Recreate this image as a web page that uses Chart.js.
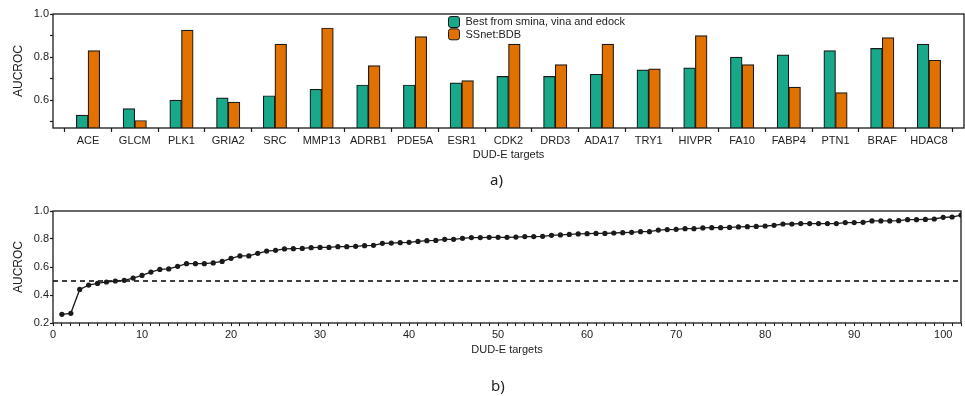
<!DOCTYPE html>
<html>
<head>
<meta charset="utf-8">
<script src="https://cdn.jsdelivr.net/npm/chart.js@4"></script>
<style>
  body { margin: 0; background: #fff; width: 965px; height: 396px; position: relative; overflow: hidden; }
  #topChart { position: absolute; left: 0; top: 0; }
  #bottomChart { position: absolute; left: 0; top: 200px; }
  .cap { position: absolute; font-family: "Noto Sans", sans-serif; font-size: 15px; color: #222; }
</style>
</head>
<body>
<canvas id="topChart" width="965" height="170"></canvas>
<canvas id="bottomChart" width="965" height="160"></canvas>
<div class="cap" style="left:490px; top:169px;">a)</div>
<div class="cap" style="left:491px; top:375px;">b)</div>
<script>
// Panel a): AUCROC per target
const targets = ['ACE', 'GLCM', 'PLK1', 'GRIA2', 'SRC', 'MMP13', 'ADRB1', 'PDE5A', 'ESR1', 'CDK2',
  'DRD3', 'ADA17', 'TRY1', 'HIVPR', 'FA10', 'FABP4', 'PTN1', 'BRAF', 'HDAC8'];
const bestDocking = [0.53, 0.56, 0.60, 0.61, 0.62, 0.65, 0.67, 0.67, 0.68, 0.71,
  0.71, 0.72, 0.74, 0.75, 0.80, 0.81, 0.83, 0.84, 0.86];
const ssnetBDB = [0.83, 0.505, 0.925, 0.59, 0.86, 0.935, 0.76, 0.895, 0.69, 0.86,
  0.765, 0.86, 0.745, 0.90, 0.765, 0.66, 0.635, 0.89, 0.785];

// Panel b): AUCROC over all DUD-E targets, sorted
const sortedAUC = [
  0.262, 0.269, 0.44, 0.471, 0.483, 0.493, 0.50, 0.505, 0.521, 0.54,
  0.564, 0.583, 0.586, 0.605, 0.624, 0.624, 0.624, 0.629, 0.64, 0.662,
  0.679, 0.679, 0.698, 0.714, 0.719, 0.729, 0.731, 0.733, 0.738, 0.74,
  0.74, 0.745, 0.745, 0.748, 0.752, 0.755, 0.769, 0.771, 0.774, 0.776,
  0.783, 0.788, 0.79, 0.798, 0.798, 0.805, 0.81, 0.81, 0.812, 0.812,
  0.812, 0.814, 0.817, 0.817, 0.819, 0.826, 0.829, 0.833, 0.836, 0.838,
  0.84, 0.84, 0.843, 0.845, 0.848, 0.852, 0.852, 0.864, 0.867, 0.869,
  0.874, 0.874, 0.879, 0.881, 0.881, 0.883, 0.886, 0.888, 0.89, 0.893,
  0.898, 0.907, 0.907, 0.91, 0.91, 0.91, 0.91, 0.91, 0.917, 0.917,
  0.919, 0.929, 0.929, 0.929, 0.931, 0.938, 0.938, 0.94, 0.943, 0.955,
  0.957, 0.971
];
const chanceLevel = 0.5;

const ink = '#1a1a1a';
Chart.defaults.font.family = '"Liberation Sans", Arial, sans-serif';
Chart.defaults.font.size = 11;
Chart.defaults.color = '#222';

// box around the plot area
const frame = {
  id: 'frame',
  afterDraw(chart) {
    const { ctx, chartArea: a } = chart;
    ctx.save();
    ctx.strokeStyle = ink;
    ctx.lineWidth = 1.3;
    ctx.strokeRect(a.left, a.top, a.right - a.left, a.bottom - a.top);
    ctx.restore();
  }
};

// legend drawn inside the plot, top centre
const innerLegend = {
  id: 'innerLegend',
  afterDraw(chart) {
    const ctx = chart.ctx;
    ctx.save();
    chart.data.datasets.forEach((ds, i) => {
      const y = 16.5 + i * 12.3;
      ctx.beginPath();
      ctx.roundRect(448.5, y, 11, 11, 2.5);
      ctx.fillStyle = ds.backgroundColor;
      ctx.fill();
      ctx.strokeStyle = ink;
      ctx.lineWidth = 1;
      ctx.stroke();
      ctx.fillStyle = '#222';
      ctx.font = '11px "Liberation Sans", Arial, sans-serif';
      ctx.textBaseline = 'middle';
      ctx.fillText(ds.label, 465.5, y + 5.8);
    });
    ctx.restore();
  }
};

const tenthsLabel = v => (Math.round(v * 10) % 2 === 0 ? v.toFixed(1) : '');

new Chart(document.getElementById('topChart'), {
  type: 'bar',
  data: {
    datasets: [
      {
        label: 'Best from smina, vina and edock',
        data: bestDocking.map((v, i) => ({ x: i, y: v })),
        backgroundColor: '#17a98a',
        borderColor: ink,
        borderWidth: 1.2
      },
      {
        label: 'SSnet:BDB',
        data: ssnetBDB.map((v, i) => ({ x: i, y: v })),
        backgroundColor: '#e27200',
        borderColor: ink,
        borderWidth: 1.2
      }
    ]
  },
  options: {
    responsive: false,
    animation: false,
    categoryPercentage: 1.0,
    barPercentage: 1.0,
    layout: { padding: { top: 14, right: 1, left: 0, bottom: 0 } },
    plugins: { legend: { display: false }, tooltip: { enabled: false } },
    scales: {
      x: {
        type: 'linear',
        offset: false,
        min: -0.75,
        max: targets.length - 0.25,
        afterBuildTicks: s => {
          s.ticks = [];
          for (let v = -0.5; v <= targets.length - 0.5; v += 0.5) s.ticks.push({ value: v });
        },
        afterFit: s => { s.height = 42; },
        border: { display: false },
        grid: {
          offset: false,
          drawOnChartArea: false,
          tickLength: 4,
          tickWidth: 1.2,
          tickColor: c => (c.tick && Number.isInteger(c.tick.value) ? 'rgba(0,0,0,0)' : ink)
        },
        ticks: {
          autoSkip: false,
          maxRotation: 0,
          minRotation: 0,
          padding: 2,
          callback: v => (Number.isInteger(v) ? targets[v] : '')
        },
        title: { display: true, text: 'DUD-E targets', padding: { top: 0, bottom: 8 } }
      },
      y: {
        min: 0.47,
        max: 1.0,
        afterFit: s => { s.width = 53; },
        border: { display: false },
        grid: { drawOnChartArea: false, tickLength: 3, tickWidth: 1.2, tickColor: ink },
        ticks: { stepSize: 0.1, includeBounds: false, padding: 1, callback: tenthsLabel },
        title: { display: true, text: 'AUCROC', font: { size: 12 }, padding: { top: 11, bottom: 0 } }
      }
    }
  },
  plugins: [frame, innerLegend]
});

new Chart(document.getElementById('bottomChart'), {
  type: 'line',
  data: {
    datasets: [
      {
        data: sortedAUC.map((v, i) => ({ x: i + 1, y: v })),
        borderColor: ink,
        backgroundColor: ink,
        borderWidth: 1.3,
        pointRadius: 2.6,
        pointBorderWidth: 0,
        tension: 0
      },
      {
        data: [{ x: 0, y: chanceLevel }, { x: sortedAUC.length, y: chanceLevel }],
        borderColor: '#000',
        borderWidth: 1.5,
        borderDash: [5, 4],
        pointRadius: 0
      }
    ]
  },
  options: {
    responsive: false,
    animation: false,
    layout: { padding: { top: 11, right: 1, left: 0, bottom: 0 } },
    plugins: { legend: { display: false }, tooltip: { enabled: false } },
    scales: {
      x: {
        type: 'linear',
        min: 0,
        max: sortedAUC.length,
        afterFit: s => { s.height = 37; },
        border: { display: false },
        grid: { drawOnChartArea: false, tickLength: 3, tickWidth: 1, tickColor: ink },
        ticks: {
          stepSize: 1,
          autoSkip: false,
          maxRotation: 0,
          minRotation: 0,
          padding: 2,
          callback: v => (v % 10 === 0 ? String(v) : '')
        },
        title: { display: true, text: 'DUD-E targets', padding: { top: 0, bottom: 3 } }
      },
      y: {
        min: 0.2,
        max: 1.0,
        afterFit: s => { s.width = 53; },
        border: { display: false },
        grid: { drawOnChartArea: false, tickLength: 3, tickWidth: 1.2, tickColor: ink },
        ticks: { stepSize: 0.1, padding: 1, callback: tenthsLabel },
        title: { display: true, text: 'AUCROC', font: { size: 12 }, padding: { top: 11, bottom: 0 } }
      }
    }
  },
  plugins: [frame]
});
</script>
</body>
</html>
